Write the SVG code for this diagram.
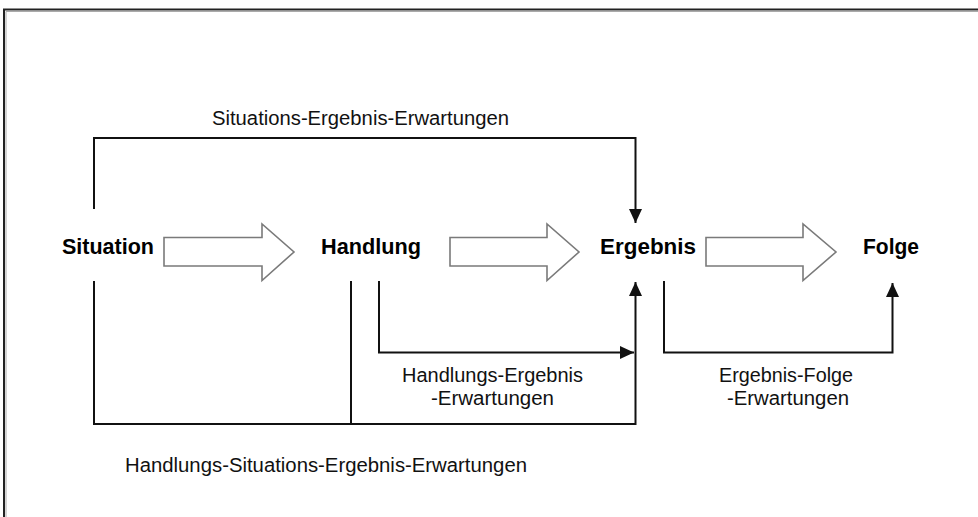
<svg xmlns="http://www.w3.org/2000/svg" width="978" height="517" viewBox="0 0 978 517">
  <style>
    .node { font-family: "Liberation Sans", Arial, sans-serif; font-weight: bold; font-size: 22px; fill: #000; }
    .lbl { font-family: "Liberation Sans", Arial, sans-serif; font-size: 20px; fill: #111; }
    .conn { fill: none; stroke: #111; stroke-width: 2; }
    .block { fill: #fff; stroke: #7a7a7a; stroke-width: 1.6; stroke-linejoin: miter; }
  </style>
  <defs>
    <marker id="ah" viewBox="0 0 14 13" refX="14" refY="6.5" markerWidth="14" markerHeight="13" markerUnits="userSpaceOnUse" orient="auto">
      <path d="M0,0 L14,6.5 L0,13 z" fill="#111"/>
    </marker>
  </defs>
  <rect x="0" y="0" width="978" height="517" fill="#fff"/>
  <g id="frame">
    <path d="M4,517 V9.5 H978" fill="none" stroke="#222" stroke-width="2"/>
    <path d="M6,517 V11.5 H978" fill="none" stroke="#aaa" stroke-width="1"/>
  </g>
  <g id="block-arrows">
    <polygon class="block" points="164,237.5 262,237.5 262,224 294,252 262,280.5 262,266 164,266"/>
    <polygon class="block" points="450,237.5 547,237.5 547,224 579,252 547,280.5 547,266 450,266"/>
    <polygon class="block" points="706,237.5 803,237.5 803,224 836,252 803,280.5 803,266 706,266"/>
  </g>
  <g id="node-situation"><text class="node" x="62" y="254" textLength="92" lengthAdjust="spacingAndGlyphs">Situation</text></g>
  <g id="node-handlung"><text class="node" x="321" y="254" textLength="100" lengthAdjust="spacingAndGlyphs">Handlung</text></g>
  <g id="node-ergebnis"><text class="node" x="600" y="254" textLength="96" lengthAdjust="spacingAndGlyphs">Ergebnis</text></g>
  <g id="node-folge"><text class="node" x="863" y="254" textLength="56" lengthAdjust="spacingAndGlyphs">Folge</text></g>
  <g id="connectors">
    <path class="conn" d="M94,209 V138 H635.5 V223" marker-end="url(#ah)"/>
    <path class="conn" d="M379,281 V352.5 H634" marker-end="url(#ah)"/>
    <path class="conn" d="M664,281 V352.5 H892.5 V283" marker-end="url(#ah)"/>
    <path class="conn" d="M94,281 V424 H635.5 V282" marker-end="url(#ah)"/>
    <path class="conn" d="M351,281 V424"/>
  </g>
  <g id="labels">
    <text class="lbl" x="212" y="125" textLength="297" lengthAdjust="spacingAndGlyphs">Situations-Ergebnis-Erwartungen</text>
    <text class="lbl" x="402" y="382" textLength="181" lengthAdjust="spacingAndGlyphs">Handlungs-Ergebnis</text>
    <text class="lbl" x="431" y="405" textLength="123" lengthAdjust="spacingAndGlyphs">-Erwartungen</text>
    <text class="lbl" x="719" y="382" textLength="134" lengthAdjust="spacingAndGlyphs">Ergebnis-Folge</text>
    <text class="lbl" x="727" y="405" textLength="122" lengthAdjust="spacingAndGlyphs">-Erwartungen</text>
    <text class="lbl" x="125" y="472" textLength="402" lengthAdjust="spacingAndGlyphs">Handlungs-Situations-Ergebnis-Erwartungen</text>
  </g>
</svg>
